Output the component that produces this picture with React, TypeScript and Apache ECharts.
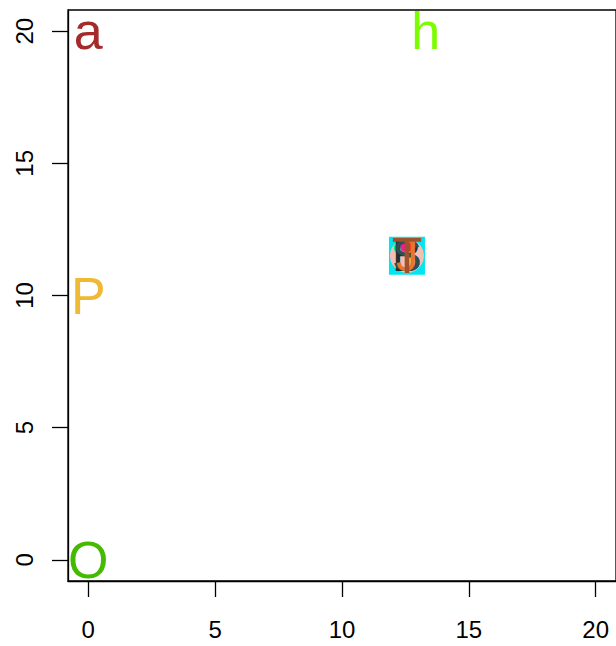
import React, { useEffect, useRef } from "react";
import * as echarts from "echarts";

const tickValues = [0, 5, 10, 15, 20];

const pointLabels = ["a", "h", "P", "O"];
const pointX = [0, 13.3, 0, 0];
const pointY = [20, 20, 10, 0];
const pointColors = ["#A52A2A", "#7CFC00", "#EEB934", "#44BB00"];

const clusterX = 12.56;
const clusterY = 11.5;
const clusterLabels = ["B", "S", "J", "T"];
const clusterColors = ["#1F2F2F", "#2F4F4F", "#E8762A", "#A0522D"];
const clusterDots = ["#00EE76", "#FF1493", "#FF2020"];
const clusterDotDx = [-0.3, -0.05, 0.2];
const clusterDotDy = [0.3, 0.35, 0.35];

const FONT = "Liberation Sans, Arial, Helvetica, sans-serif";

export default function App() {
  const ref = useRef<HTMLDivElement>(null);
  useEffect(() => {
    if (!ref.current) return;
    const chart = echarts.init(ref.current, null, { renderer: "svg" });
    const axisCommon = {
      type: "value" as const,
      min: -0.8,
      max: 20.8,
      splitLine: { show: false },
      axisLine: { show: true, onZero: false, lineStyle: { color: "#000", width: 1.3 } },
      axisTick: {
        show: true,
        length: 16,
        customValues: tickValues,
        lineStyle: { color: "#000", width: 1.3 },
      },
    };
    chart.setOption({
      animation: false,
      backgroundColor: "#fff",
      grid: {
        left: 68,
        right: -1,
        top: 10,
        bottom: 65,
        show: true,
        borderColor: "#000",
        borderWidth: 1.3,
      },
      xAxis: {
        ...axisCommon,
        axisLabel: {
          customValues: tickValues,
          color: "#000",
          fontSize: 24,
          fontFamily: FONT,
          margin: 36,
        },
      },
      yAxis: {
        ...axisCommon,
        axisLabel: {
          customValues: tickValues,
          color: "#000",
          fontSize: 24,
          fontFamily: FONT,
          rotate: 90,
          margin: 32,
        },
      },
      series: [
        {
          type: "scatter",
          symbol: "rect",
          symbolSize: [36, 38],
          itemStyle: { color: "#00E5EE", opacity: 1 },
          data: [[clusterX, clusterY]],
          z: 1,
        },
        {
          type: "scatter",
          symbol: "circle",
          symbolSize: 34,
          itemStyle: { color: "#F2BFB5", opacity: 1 },
          data: [[clusterX, clusterY]],
          z: 2,
        },
        {
          type: "scatter",
          symbol: "circle",
          symbolSize: 11,
          z: 3,
          data: clusterDots.map((c, i) => ({
            value: [clusterX + clusterDotDx[i], clusterY + clusterDotDy[i]],
            itemStyle: { color: c, opacity: 1 },
          })),
        },
        {
          type: "scatter",
          symbolSize: 1,
          itemStyle: { color: "#fff", opacity: 0 },
          z: 4,
          data: clusterLabels.map((t, i) => ({
            value: [clusterX, clusterY],
            label: {
              show: true,
              position: "inside",
              formatter: t,
              color: clusterColors[i],
              opacity: 1,
              fontSize: i === 3 ? 50 : 44,
              fontFamily: FONT,
            },
          })),
        },
        {
          type: "scatter",
          symbolSize: 1,
          itemStyle: { color: "#fff", opacity: 0 },
          z: 5,
          data: pointLabels.map((t, i) => ({
            value: [pointX[i], pointY[i]],
            label: {
              show: true,
              position: "inside",
              formatter: t,
              color: pointColors[i],
              opacity: 1,
              fontSize: 52,
              fontFamily: FONT,
            },
          })),
        },
      ],
    });
    return () => chart.dispose();
  }, []);
  return <div ref={ref} style={{ width: 616, height: 646, position: "absolute", left: 0, top: 0 }} />;
}
